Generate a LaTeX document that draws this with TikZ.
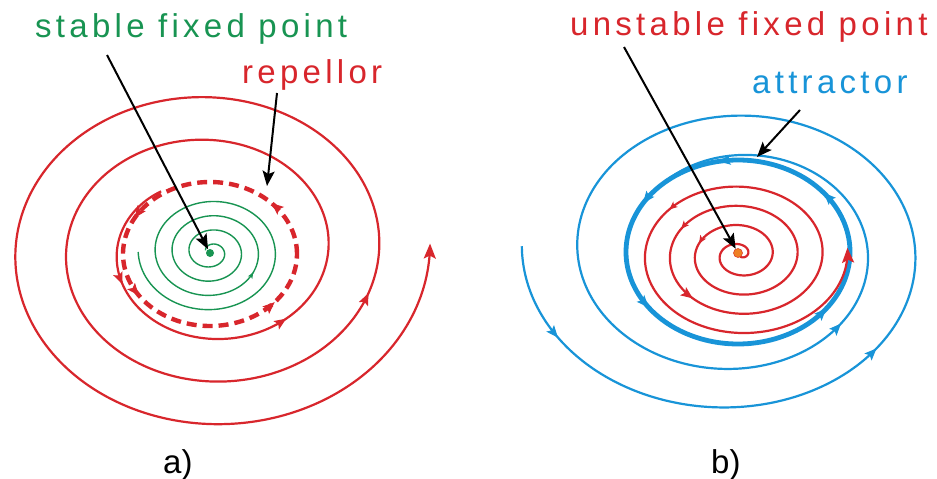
\documentclass[tikz,border=0pt]{standalone}
\usepackage{fontspec}
\setmainfont{Liberation Sans}
\newfontfamily\lblfont[LetterSpace=13]{Liberation Sans}
\usetikzlibrary{arrows.meta}
\definecolor{cgreen}{RGB}{24,148,82}
\definecolor{cred}{RGB}{216,38,44}
\definecolor{cblue}{RGB}{24,148,216}
\definecolor{corange}{RGB}{238,128,36}
\begin{document}
\begin{tikzpicture}[x=1pt,y=-1pt,
  declare function={
    grx(\t)=43.1-0.0472*(\t-810);
    arx(\t)=93+0.141*(\t-180);
    bf(\t)=(855-\t)/675;
    brx(\t)=112+96.5*bf(\t);
    bcx(\t)=738-7.5*bf(\t);
    bk(\t)=0.82-0.03*bf(\t);
    rrx(\t)=7.5+\t/14.4;
  },
  lbl/.style={font=\fontsize{33}{35}\selectfont\lblfont, anchor=base west, inner sep=0pt},
  plainlbl/.style={font=\fontsize{33}{35}\selectfont, anchor=base west, inner sep=0pt},
  ptr/.style={line width=2pt, -{Stealth[length=15pt,width=12pt,inset=3pt]}},
  tipS/.style={-{Stealth[length=8pt,width=7pt,inset=2pt]}},
  tipM/.style={-{Stealth[length=12pt,width=10pt,inset=2.5pt]}},
  tipL/.style={-{Stealth[length=15pt,width=12pt,inset=3pt]}},
  tipG/.style={-{Stealth[length=6pt,width=5pt,inset=1.5pt]}},
]
\useasboundingbox (0,0) rectangle (937,479);
\fill[white] (0,0) rectangle (937,479);

% ---------------- panel a ----------------
% green stable spiral
\draw[cgreen, line width=1.4pt] plot[domain=180:1600, samples=400, smooth, variable=\t]
  ({211+grx(\t)*cos(\t)}, {252-0.84*grx(\t)*sin(\t)});
\draw[cgreen, line width=1pt, tipG] plot[domain=689:690, samples=2, variable=\t]
  ({211+grx(\t)*cos(\t)}, {252-0.84*grx(\t)*sin(\t)});

% dashed repellor
\draw[cred, line width=4.4pt, dash pattern=on 10pt off 6pt] plot[domain=0:360, samples=120, smooth, variable=\t]
  ({210+87*cos(\t)}, {254-72*sin(\t)});
\foreach \a in {45,150,215,318}{
  \draw[cred, line width=1pt, tipM] plot[domain=\a-1:\a, samples=2, variable=\t]
    ({210+87*cos(\t)}, {254-72*sin(\t)});
}

% red outward spiral
\draw[cred, line width=2.2pt, tipL] plot[domain=125:1082, samples=400, smooth, variable=\t]
  ({210+arx(\t)*cos(\t)}, {250-0.84*arx(\t)*sin(\t)});
\foreach \a in {205,313,702}{
  \draw[cred, line width=1pt, tipM] plot[domain=\a-1:\a, samples=2, variable=\t]
    ({210+arx(\t)*cos(\t)}, {250-0.84*arx(\t)*sin(\t)});
}

\node[circle, fill=cgreen, inner sep=0pt, minimum size=8pt] (sfp) at (210,253) {};

% ---------------- panel b ----------------
% thin blue spiral converging to the attractor
\draw[cblue, line width=2.2pt] plot[domain=178:855, samples=350, smooth, variable=\t]
  ({bcx(\t)+brx(\t)*cos(\t)}, {252-bk(\t)*brx(\t)*sin(\t)});
\foreach \a in {212,320,680}{
  \draw[cblue, line width=1pt, tipM] plot[domain=\a-1:\a, samples=2, variable=\t]
    ({bcx(\t)+brx(\t)*cos(\t)}, {252-bk(\t)*brx(\t)*sin(\t)});
}
% thick attractor
\draw[cblue, line width=4.8pt] plot[domain=0:360, samples=120, smooth, variable=\t]
  ({738+112*cos(\t)}, {252-92*sin(\t)});
\foreach \a in {40,100,148,217,322}{
  \draw[cblue, line width=1pt, tipM] plot[domain=\a-1:\a, samples=2, variable=\t]
    ({738+112*cos(\t)}, {252-92*sin(\t)});
}
% red unstable spiral
\draw[cred, line width=2.2pt, tipL] plot[domain=-100:1445, samples=500, smooth, variable=\t]
  ({740+rrx(\t)*cos(\t)}, {255-0.77*rrx(\t)*sin(\t)});
\foreach \a in {520,870,1220}{
  \draw[cred, line width=1pt, tipS] plot[domain=\a-1:\a, samples=2, variable=\t]
    ({740+rrx(\t)*cos(\t)}, {255-0.77*rrx(\t)*sin(\t)});
}
\draw[cred, line width=1pt, tipM] plot[domain=949:950, samples=2, variable=\t]
  ({740+rrx(\t)*cos(\t)}, {255-0.77*rrx(\t)*sin(\t)});

\node[circle, fill=corange, draw=cred!70!corange, line width=0.6pt, inner sep=0pt, minimum size=9pt] (ufp) at (738,253) {};

% ---------------- labels ----------------
\node[lbl, text=cgreen] (sfpLabel) at (35,37) {stable fixed point};
\node[lbl, text=cred] (repLabel) at (242,83) {repellor};
\node[lbl, text=cred] (ufpLabel) at (570,35) {unstable fixed point};
\node[lbl, text=cblue] (attLabel) at (752,93) {attractor};
\node[plainlbl] (la) at (163,473) {a)};
\node[plainlbl] (lb) at (711,473) {b)};

% ---------------- pointers ----------------
\coordinate (sfpTail) at (107,55);
\coordinate (repTail) at (277,93);
\coordinate (repHead) at (267,186);
\coordinate (ufpTail) at (624,47);
\coordinate (attTail) at (800,110);
\coordinate (attHead) at (757,157);
\draw[ptr] (sfpTail) -- (sfp);
\draw[ptr] (repTail) -- (repHead);
\draw[ptr] (ufpTail) -- (ufp);
\draw[ptr] (attTail) -- (attHead);
\end{tikzpicture}
\end{document}
